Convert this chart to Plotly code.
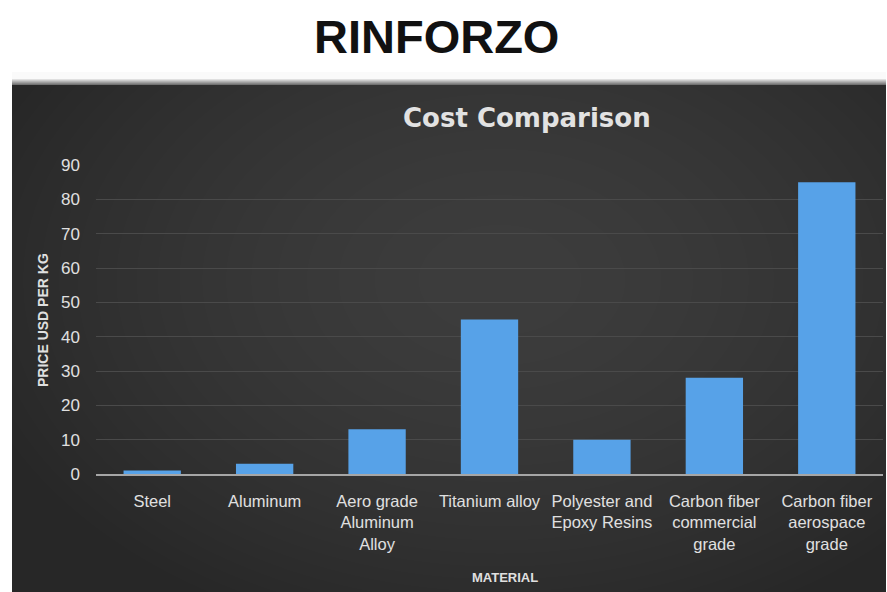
import base64, struct, zlib
import numpy as np
import plotly.graph_objects as go

# ---- data ----
materials = ["Steel", "Aluminum", "Aero grade<br>Aluminum<br>Alloy", "Titanium alloy",
             "Polyester and<br>Epoxy Resins", "Carbon fiber<br>commercial<br>grade",
             "Carbon fiber<br>aerospace<br>grade"]
price_usd_per_kg = [1, 3, 13, 45, 10, 28, 85]
y_ticks = [0, 10, 20, 30, 40, 50, 60, 70, 80, 90]

W, H = 887, 592

def px(x):
    return x / W

def py(y):
    return (H - y) / H

# ---- background panel (dark vignette) as an embedded PNG ----
def make_png(arr):
    h, w, _ = arr.shape
    raw = b"".join(b"\x00" + arr[i].tobytes() for i in range(h))
    def chunk(t, d):
        c = struct.pack(">I", len(d)) + t + d
        return c + struct.pack(">I", zlib.crc32(t + d) & 0xffffffff)
    png = b"\x89PNG\r\n\x1a\n" + chunk(b"IHDR", struct.pack(">IIBBBBB", w, h, 8, 2, 0, 0, 0))
    png += chunk(b"IDAT", zlib.compress(raw, 9)) + chunk(b"IEND", b"")
    return "data:image/png;base64," + base64.b64encode(png).decode()

img_x0, img_x1, img_y0, img_y1 = 12, 886, 72, 592
iw, ih = (img_x1 - img_x0), (img_y1 - img_y0)
yy, xx = np.mgrid[0:ih, 0:iw]
ypix = img_y0 + yy + 0.5
xpix = img_x0 + xx + 0.5
cx, cy = 500, 280
d = np.sqrt(((xpix - cx) / 560.0) ** 2 + ((ypix - cy) / 380.0) ** 2)
val = 0x3d - (0x3d - 0x27) * np.clip(d, 0, 1) ** 1.6
# thin light band above the panel
band_val = np.where(ypix < 79, 250.0, 235 - (ypix - 79) * 22)
val = np.where(ypix < 85, band_val, val)
arr = np.stack([val, val, val], axis=-1).clip(0, 255).astype(np.uint8)
bg_uri = make_png(arr)

fig = go.Figure()
fig.add_trace(go.Bar(
    x=materials, y=price_usd_per_kg,
    marker=dict(color="#57a2e8", line=dict(width=0)),
    width=0.51,
))

tick_font = dict(family="Liberation Sans, Arial, sans-serif", size=16.5, color="#e0e0e0")

fig.update_layout(
    width=W, height=H,
    margin=dict(l=0, r=0, t=0, b=0, pad=0),
    paper_bgcolor="white",
    plot_bgcolor="rgba(0,0,0,0)",
    showlegend=False,
    images=[dict(source=bg_uri, xref="paper", yref="paper",
                 x=px(img_x0), y=py(img_y0), sizex=px(img_x1) - px(img_x0),
                 sizey=py(img_y0) - py(img_y1), sizing="stretch",
                 xanchor="left", yanchor="top", layer="below")],
    xaxis=dict(domain=[px(96), px(883)], showgrid=False, showline=True, automargin=False,
               linecolor="#a6a6a6", linewidth=2, ticks="", tickfont=tick_font,
               ticklabelstandoff=11, tickangle=0, fixedrange=True),
    yaxis=dict(domain=[1 - 474 / H, 1 - 165 / H], range=[0, 90], tickvals=y_ticks, automargin=False,
               showgrid=True, gridcolor="#4a4a4a", gridwidth=1, zeroline=False,
               showline=False, ticks="", tickfont=dict(tick_font, size=17),
               ticklabelstandoff=15, fixedrange=True),
    annotations=[
        dict(text="<b>RINFORZO</b>", x=px(436), y=py(36), xref="paper", yref="paper",
             showarrow=False, xanchor="center", yanchor="middle",
             font=dict(family="Liberation Sans, Arial, sans-serif", size=47, color="#111111")),
        dict(text="<b>Cost Comparison</b>", x=px(527), y=py(118), xref="paper", yref="paper",
             showarrow=False, xanchor="center", yanchor="middle",
             font=dict(family="DejaVu Sans, sans-serif", size=26, color="#e2e2e2")),
        dict(text="<b>PRICE USD PER KG</b>", x=px(43), y=py(320), xref="paper", yref="paper",
             showarrow=False, textangle=-90, xanchor="center", yanchor="middle",
             font=dict(family="Liberation Sans Narrow, Liberation Sans, sans-serif", size=14, color="#e0e0e0")),
        dict(text="<b>MATERIAL</b>", x=px(505), y=py(577), xref="paper", yref="paper",
             showarrow=False, xanchor="center", yanchor="middle",
             font=dict(family="Liberation Sans Narrow, Liberation Sans, sans-serif", size=13, color="#e0e0e0")),
    ],
)

fig.write_html("out.html")
